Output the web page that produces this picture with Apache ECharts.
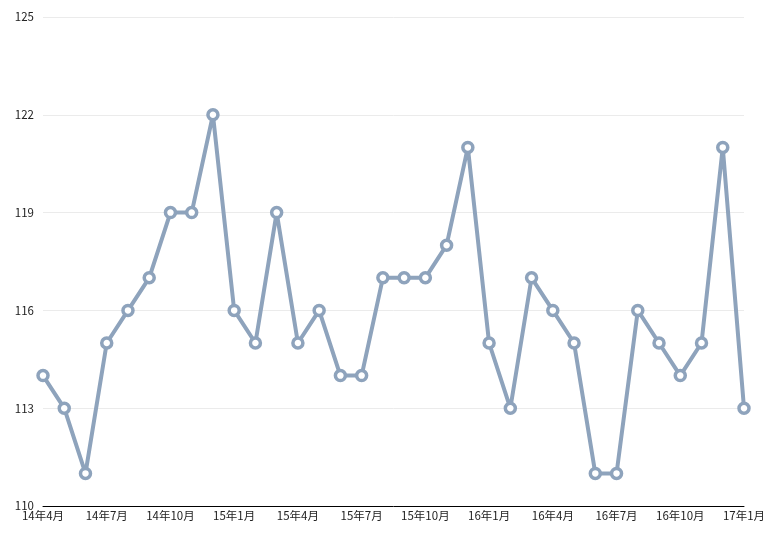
<!DOCTYPE html>
<html><head><meta charset="utf-8">
<script src="https://cdn.jsdelivr.net/npm/echarts@6/dist/echarts.min.js"></script>
<style>html,body{margin:0;padding:0;background:#fff}#c{width:775px;height:533px}</style>
</head><body><div id="c"></div>
<script>
const categories = ['14年4月','14年5月','14年6月','14年7月','14年8月','14年9月','14年10月','14年11月','14年12月',
'15年1月','15年2月','15年3月','15年4月','15年5月','15年6月','15年7月','15年8月','15年9月','15年10月','15年11月','15年12月',
'16年1月','16年2月','16年3月','16年4月','16年5月','16年6月','16年7月','16年8月','16年9月','16年10月','16年11月','16年12月',
'17年1月'];
const values = [114,113,111,115,116,117,119,119,122,
116,115,119,115,116,114,114,117,117,117,118,121,
115,113,117,116,115,111,111,116,115,114,115,121,
113];
const chart = echarts.init(document.getElementById('c'));
chart.setOption({
  animation:false,
  grid:{left:43,right:31,top:17,bottom:27},
  xAxis:{type:'category',data:categories,boundaryGap:false,
    axisLine:{lineStyle:{color:'#000',width:1}},axisTick:{show:false},
    axisLabel:{interval:2,color:'#222',fontSize:11.5,margin:4,fontFamily:'Noto Sans CJK JP'}},
  yAxis:{type:'value',min:110,max:125,interval:3,
    axisLine:{show:false},axisTick:{show:false},
    splitLine:{lineStyle:{color:'#ebebeb'}},
    axisLabel:{color:'#222',fontSize:11.5,margin:9,fontFamily:'Noto Sans CJK JP'}},
  series:[{type:'line',data:values,symbol:'circle',symbolSize:10,
    lineStyle:{color:'#8ea3bc',width:4},
    itemStyle:{color:'#fff',borderColor:'#8ea3bc',borderWidth:3.5}}]
});
</script></body></html>
